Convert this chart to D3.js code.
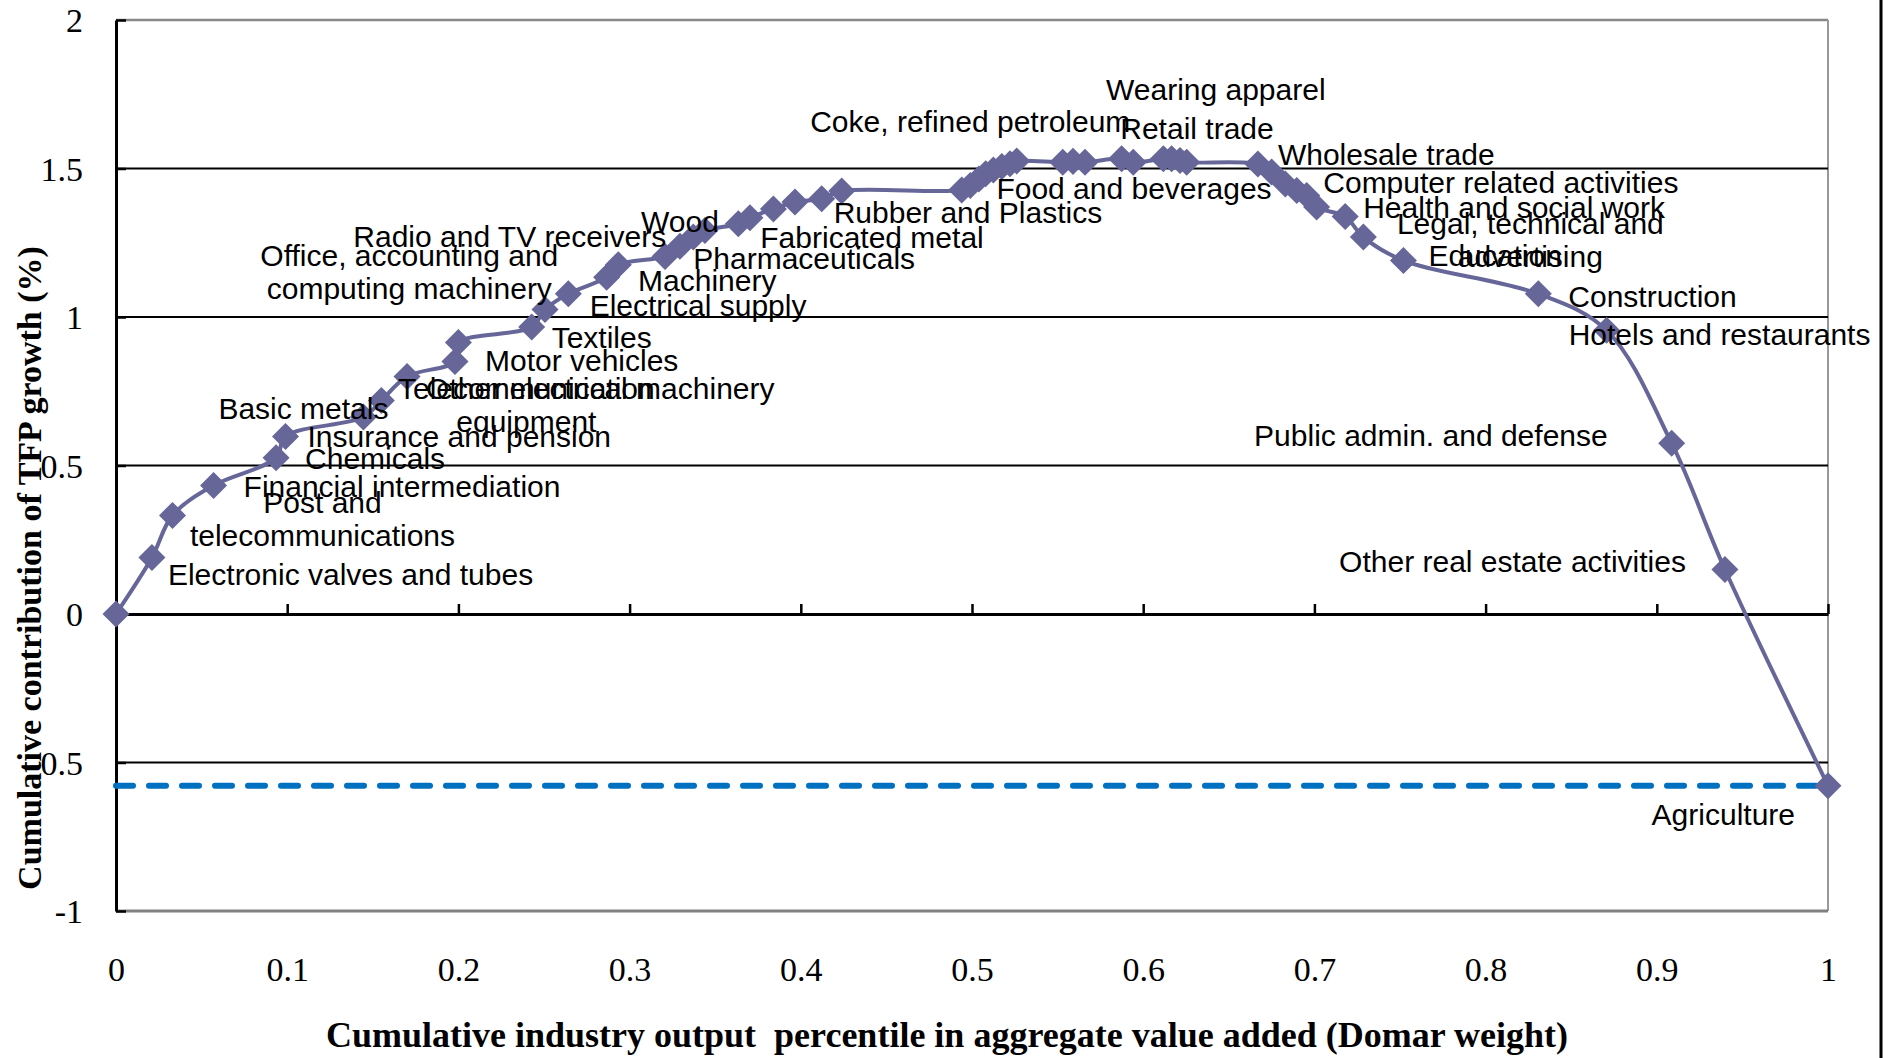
<!DOCTYPE html>
<html>
<head>
<meta charset="utf-8">
<script src="https://cdn.jsdelivr.net/npm/d3@7"></script>
<style>
  body { margin: 0; background: #fff; }
  svg { display: block; background: #fff; }
  .tick text { font-family: 'Liberation Serif', 'Times New Roman', serif; font-size: 34px; fill: #000; }
  .axis-title { font-family: 'Liberation Serif', 'Times New Roman', serif; font-weight: bold; white-space: pre; }
  .point-label { font-family: 'Liberation Sans', Arial, sans-serif; font-size: 30px; fill: #000; }
</style>
</head>
<body>
<div id="chart"></div>
<script>
// industries in the order they are cumulated ('' = unlabeled point)
const industries = [
  '', 'Electronic valves and tubes', 'Post and\ntelecommunications', 'Financial intermediation',
  'Chemicals', 'Insurance and pension', 'Basic metals', 'Telecommunication\nequipment',
  'Other electrical machinery', 'Motor vehicles', '', 'Textiles', '',
  'Office, accounting and\ncomputing machinery', 'Electrical supply', 'Radio and TV receivers',
  'Machinery', 'Wood', 'Pharmaceuticals', '', 'Fabricated metal', '', '', '',
  'Rubber and Plastics', '', '', 'Coke, refined petroleum', '', '', 'Food and beverages',
  '', '', '', '', '', '', '', 'Retail trade', '', '', 'Wearing apparel', '',
  'Wholesale trade', '', 'Computer related activities', '', '', '', 'Health and social work',
  'Legal, technical and\nadvertising', 'Education', 'Construction', 'Hotels and restaurants',
  'Public admin. and defense', 'Other real estate activities', 'Agriculture',
];

// cumulative output share (Domar weight)
const domarShare = [
  0, 0.021, 0.033, 0.057, 0.0935, 0.099, 0.1445, 0.155, 0.170, 0.198, 0.200,
  0.2428, 0.2506, 0.2642, 0.2866, 0.2934, 0.3207, 0.3294, 0.3372, 0.344, 0.3635,
  0.3703, 0.384, 0.3966, 0.4122, 0.4239, 0.494, 0.499, 0.504, 0.508, 0.5125,
  0.5174, 0.5222, 0.5261, 0.553, 0.559, 0.566, 0.5874, 0.5942, 0.6118, 0.6166,
  0.6215, 0.6254, 0.667, 0.675, 0.683, 0.6897, 0.6955, 0.7013, 0.718, 0.7286,
  0.752, 0.8308, 0.8707, 0.9087, 0.9398, 1,
];

// cumulative contribution of TFP growth (%)
const tfpContribution = [
  0, 0.19, 0.332, 0.433, 0.526, 0.598, 0.663, 0.719, 0.80, 0.85, 0.914,
  0.966, 1.025, 1.078, 1.134, 1.176, 1.204, 1.238, 1.269, 1.291, 1.314,
  1.334, 1.364, 1.387, 1.398, 1.424, 1.428, 1.443, 1.465, 1.482, 1.495,
  1.507, 1.516, 1.525, 1.521, 1.524, 1.521, 1.533, 1.521, 1.533, 1.533,
  1.527, 1.521, 1.515, 1.488, 1.448, 1.426, 1.409, 1.37, 1.338, 1.269,
  1.19, 1.078, 0.955, 0.575, 0.15, -0.578,
];

// aggregate TFP growth (dashed reference)
const aggregateTfp = [-0.578];

const xTicks = [0, 0.1, 0.2, 0.3, 0.4, 0.5, 0.6, 0.7, 0.8, 0.9, 1];
const yTicks = [-1, -0.5, 0, 0.5, 1, 1.5, 2];
const yGrid = [-0.5, 0.5, 1, 1.5];

// label placement relative to its point: [dx, dy, anchor]
const labelNudge = {
  'Electronic valves and tubes': [16, 17, 'start'],
  'Post and\ntelecommunications': [150, -13, 'middle'],
  'Financial intermediation': [30, 1, 'start'],
  'Chemicals': [29, 0, 'start'],
  'Insurance and pension': [22, 0, 'start'],
  'Basic metals': [-145, -9, 'start'],
  'Telecommunication\nequipment': [145, -12, 'middle'],
  'Other electrical machinery': [19, 12, 'start'],
  'Motor vehicles': [30, -1, 'start'],
  'Textiles': [20, 10, 'start'],
  'Office, accounting and\ncomputing machinery': [-159, -39, 'middle'],
  'Electrical supply': [-17, 28, 'start'],
  'Radio and TV receivers': [-265, -29, 'start'],
  'Machinery': [-27, 24, 'start'],
  'Wood': [0, -25, 'middle'],
  'Pharmaceuticals': [0, 21, 'start'],
  'Fabricated metal': [22, 13, 'start'],
  'Rubber and Plastics': [12, 13, 'start'],
  'Coke, refined petroleum': [0, -64, 'middle'],
  'Food and beverages': [3, 18, 'start'],
  'Retail trade': [-13, -34, 'start'],
  'Wearing apparel': [-74, -71, 'start'],
  'Wholesale trade': [20, -10, 'start'],
  'Computer related activities': [38, -2, 'start'],
  'Health and social work': [18, -9, 'start'],
  'Legal, technical and\nadvertising': [167, -14, 'middle'],
  'Education': [25, -5, 'start'],
  'Construction': [30, 2, 'start'],
  'Hotels and restaurants': [-38, 4, 'start'],
  'Public admin. and defense': [-64, -8, 'end'],
  'Other real estate activities': [-39, -8, 'end'],
  'Agriculture': [-33, 29, 'end'],
};

const canvasWidth = 1896;
const canvasHeight = 1058;
const lineColor = '#666699';

const data = domarShare.map((d, i) => ({
  share: d,
  value: tfpContribution[i],
  name: industries[i],
}));

const svg = d3.select('#chart')
  .append('svg')
    .attr('width', canvasWidth)
    .attr('height', canvasHeight)
    .attr('viewBox', `0 0 ${canvasWidth} ${canvasHeight}`);

const scaleX = d3.scaleLinear().domain([0, 1]).range([116, 1828]);
const scaleY = d3.scaleLinear().domain([-1, 2]).range([911, 20]);

// plot frame (grey top, right, bottom)
const frame = svg.append('g').attr('class', 'frame');
frame.append('line')
  .attr('x1', scaleX(0)).attr('x2', scaleX(1))
  .attr('y1', scaleY(2)).attr('y2', scaleY(2))
  .attr('stroke', '#888').attr('stroke-width', 2.5);
frame.append('line')
  .attr('x1', scaleX(1)).attr('x2', scaleX(1))
  .attr('y1', scaleY(2)).attr('y2', scaleY(-1))
  .attr('stroke', '#999').attr('stroke-width', 2);
frame.append('line')
  .attr('x1', scaleX(0)).attr('x2', scaleX(1))
  .attr('y1', scaleY(-1)).attr('y2', scaleY(-1))
  .attr('stroke', '#808080').attr('stroke-width', 3);

// outer chart border on the right
svg.append('line')
  .attr('x1', 1881).attr('x2', 1881)
  .attr('y1', 0).attr('y2', canvasHeight)
  .attr('stroke', '#000').attr('stroke-width', 3);

// horizontal gridlines
svg.append('g')
  .attr('class', 'grid')
  .selectAll('line')
  .data(yGrid)
  .join('line')
    .attr('x1', scaleX(0)).attr('x2', scaleX(1))
    .attr('y1', d => scaleY(d)).attr('y2', d => scaleY(d))
    .attr('stroke', '#000').attr('stroke-width', 2.2);

// x axis line through zero, ticks pointing up
const zeroAxis = svg.append('g')
  .attr('transform', `translate(0, ${scaleY(0)})`)
  .call(d3.axisBottom(scaleX)
    .tickValues(xTicks)
    .tickSizeInner(-10)
    .tickSizeOuter(0)
    .tickFormat(''));
zeroAxis.select('.domain').attr('stroke', '#000').attr('stroke-width', 3);
zeroAxis.selectAll('.tick line').attr('stroke', '#000').attr('stroke-width', 2.5);

// x tick labels at the bottom of the plot
const bottomAxis = svg.append('g')
  .attr('transform', `translate(0, ${scaleY(-1)})`)
  .call(d3.axisBottom(scaleX)
    .tickValues(xTicks)
    .tickSize(0)
    .tickPadding(46)
    .tickFormat(d => String(+d.toFixed(1))));
bottomAxis.select('.domain').remove();

// y axis
const axisY = svg.append('g')
  .attr('transform', `translate(${scaleX(0)}, 0)`)
  .call(d3.axisLeft(scaleY)
    .tickValues(yTicks)
    .tickSizeInner(-10)
    .tickSizeOuter(0)
    .tickPadding(33)
    .tickFormat(d => String(d)));
axisY.select('.domain').attr('stroke', '#000').attr('stroke-width', 3);
axisY.selectAll('.tick line').attr('stroke', '#000').attr('stroke-width', 2.5);
axisY.selectAll('.tick text').attr('dy', '0.34em');

// aggregate level, dashed
svg.append('g')
  .selectAll('line')
  .data(aggregateTfp)
  .join('line')
    .attr('x1', scaleX(0)).attr('x2', scaleX(1))
    .attr('y1', d => scaleY(d)).attr('y2', d => scaleY(d))
    .attr('stroke', '#0070c0')
    .attr('stroke-width', 6)
    .attr('stroke-linecap', 'round')
    .attr('stroke-dasharray', '17 16');

// cumulative curve
const line = d3.line()
  .x(d => scaleX(d.share))
  .y(d => scaleY(d.value))
  .curve(d3.curveCatmullRom.alpha(0.5));

svg.append('path')
  .datum(data)
  .attr('fill', 'none')
  .attr('stroke', lineColor)
  .attr('stroke-width', 4)
  .attr('d', line);

// diamond markers
svg.append('g')
  .selectAll('path')
  .data(data)
  .join('path')
    .attr('d', d3.symbol(d3.symbolSquare, 365))
    .attr('fill', lineColor)
    .attr('transform', d => `translate(${scaleX(d.share)}, ${scaleY(d.value)}) rotate(45)`);

// industry labels
const labels = svg.append('g')
  .selectAll('text')
  .data(data.filter(d => d.name))
  .join('text')
    .attr('class', 'point-label')
    .attr('text-anchor', d => labelNudge[d.name][2])
    .attr('x', d => scaleX(d.share) + labelNudge[d.name][0])
    .attr('y', d => scaleY(d.value) + labelNudge[d.name][1]);

labels.selectAll('tspan')
  .data(d => d.name.split('\n').map(t => ({ t, d })))
  .join('tspan')
    .attr('x', p => scaleX(p.d.share) + labelNudge[p.d.name][0])
    .attr('dy', (p, i) => (i === 0 ? '0.36em' : '33px'))
    .text(p => p.t);

// axis titles
svg.append('text')
  .attr('class', 'axis-title')
  .attr('x', 947)
  .attr('y', 1047)
  .attr('text-anchor', 'middle')
  .style('font-size', '36px')
  .text('Cumulative industry output  percentile in aggregate value added (Domar weight)');

svg.append('text')
  .attr('class', 'axis-title')
  .attr('transform', 'translate(29, 568) rotate(-90)')
  .attr('text-anchor', 'middle')
  .attr('dy', '0.35em')
  .style('font-size', '34px')
  .text('Cumulative contribution of TFP growth (%)');
</script>
</body>
</html>
